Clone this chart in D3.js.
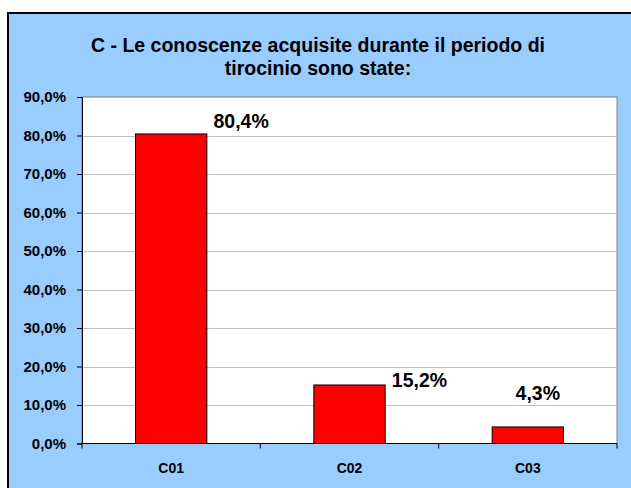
<!DOCTYPE html>
<html>
<head>
<meta charset="utf-8">
<script src="https://cdn.jsdelivr.net/npm/d3@7"></script>
<style>
	body { margin: 0; background: #ffffff; }
	svg { display: block; font-family: "Liberation Sans", Arial, sans-serif; font-weight: bold; }
</style>
</head>
<body>
<div id="vis"></div>
<script>
// data
const CATEGORIES = ["C01", "C02", "C03"];
const VALUES = [80.4, 15.2, 4.3];
const Y_TICKS = [0, 10, 20, 30, 40, 50, 60, 70, 80, 90];
const TITLE_LINES = ["C - Le conoscenze acquisite durante il periodo di", "tirocinio sono state:"];

// declare constants
const FRAME_WIDTH = 631;
const FRAME_HEIGHT = 488;
const PLOT = {left: 82, right: 617, top: 97, bottom: 443.5};

// label nudges (excel put them by hand)
const LABEL_DX = [70, 70, 10];
const LABEL_DY = [-5.5, 1.7, -26.7];

const fmt = (v) => v.toFixed(1).replace(".", ",") + "%";

const FRAME =
d3.select("#vis")
	.append("svg")
		.attr("width", FRAME_WIDTH)
		.attr("height", FRAME_HEIGHT);

// chart area background + border (cut off right / bottom)
FRAME.append("rect")
		.attr("x", 8)
		.attr("y", 13)
		.attr("width", FRAME_WIDTH + 10)
		.attr("height", FRAME_HEIGHT + 10)
		.attr("fill", "#99ccff")
		.attr("stroke", "#000000")
		.attr("stroke-width", 2);

// title
FRAME.append("text")
		.attr("x", 318)
		.attr("text-anchor", "middle")
		.attr("font-size", "19.5px")
		.attr("fill", "#000000")
	.selectAll("tspan")
	.data(TITLE_LINES)
	.enter()
	.append("tspan")
		.attr("x", 318)
		.attr("y", (d, i) => 52 + i * 23)
		.text((d) => d);

// scales
const X_SCALE = d3.scaleBand()
					.domain(CATEGORIES)
					.range([PLOT.left, PLOT.right]);
const Y_SCALE = d3.scaleLinear()
					.domain([0, 90])
					.range([PLOT.bottom, PLOT.top]);

const BAR_W = X_SCALE.bandwidth() * 0.4;

// plot area
FRAME.append("rect")
		.attr("x", PLOT.left)
		.attr("y", PLOT.top)
		.attr("width", PLOT.right - PLOT.left)
		.attr("height", PLOT.bottom - PLOT.top)
		.attr("fill", "#ffffff")
		.attr("stroke", "#808080")
		.attr("stroke-width", 1);

// gridlines
FRAME.selectAll("grid")
		.data(Y_TICKS.slice(1, -1))
		.enter()
		.append("line")
			.attr("x1", PLOT.left)
			.attr("x2", PLOT.right)
			.attr("y1", (d) => Math.round(Y_SCALE(d)) + 0.5)
			.attr("y2", (d) => Math.round(Y_SCALE(d)) + 0.5)
			.attr("stroke", "#c0c0c0")
			.attr("stroke-width", 1);

// bars
FRAME.selectAll("bars")
		.data(VALUES)
		.enter()
		.append("rect")
			.attr("class", "bar")
			.attr("x", (d, i) => X_SCALE(CATEGORIES[i]) + (X_SCALE.bandwidth() - BAR_W) / 2)
			.attr("y", (d) => Y_SCALE(d))
			.attr("width", BAR_W)
			.attr("height", (d) => PLOT.bottom - Y_SCALE(d))
			.attr("fill", "#ff0000")
			.attr("stroke", "#000000")
			.attr("stroke-width", 1);

// value labels
FRAME.selectAll("labels")
		.data(VALUES)
		.enter()
		.append("text")
			.attr("x", (d, i) => X_SCALE(CATEGORIES[i]) + X_SCALE.bandwidth() / 2 + LABEL_DX[i])
			.attr("y", (d, i) => Y_SCALE(d) + LABEL_DY[i])
			.attr("text-anchor", "middle")
			.attr("font-size", "19.5px")
			.text((d) => fmt(d));

// y axis
const Y_AXIS = FRAME.append("g")
		.attr("transform", "translate(" + PLOT.left + ",0)")
		.call(d3.axisLeft(Y_SCALE).tickValues(Y_TICKS).tickSize(5).tickPadding(11).tickFormat(fmt));
Y_AXIS.attr("font-size", "15px").attr("font-family", null).attr("font-weight", "bold");
Y_AXIS.selectAll("text").attr("fill", "#000000");

// x axis, ticks sit between categories
const X_AXIS = FRAME.append("g")
		.attr("transform", "translate(0," + PLOT.bottom + ")")
		.call(d3.axisBottom(X_SCALE).tickSize(0).tickPadding(20));
X_AXIS.attr("font-size", "14px").attr("font-family", null).attr("font-weight", "bold");
X_AXIS.select(".domain").attr("d", "M" + PLOT.left + ",0H" + PLOT.right);
X_AXIS.selectAll("text").attr("fill", "#000000");

FRAME.selectAll("xticks")
		.data(CATEGORIES.concat([null]))
		.enter()
		.append("line")
			.attr("x1", (d, i) => i < CATEGORIES.length ? X_SCALE(d) : PLOT.right)
			.attr("x2", (d, i) => i < CATEGORIES.length ? X_SCALE(d) : PLOT.right)
			.attr("y1", PLOT.bottom)
			.attr("y2", PLOT.bottom + 5)
			.attr("stroke", "#000000");
</script>
</body>
</html>
